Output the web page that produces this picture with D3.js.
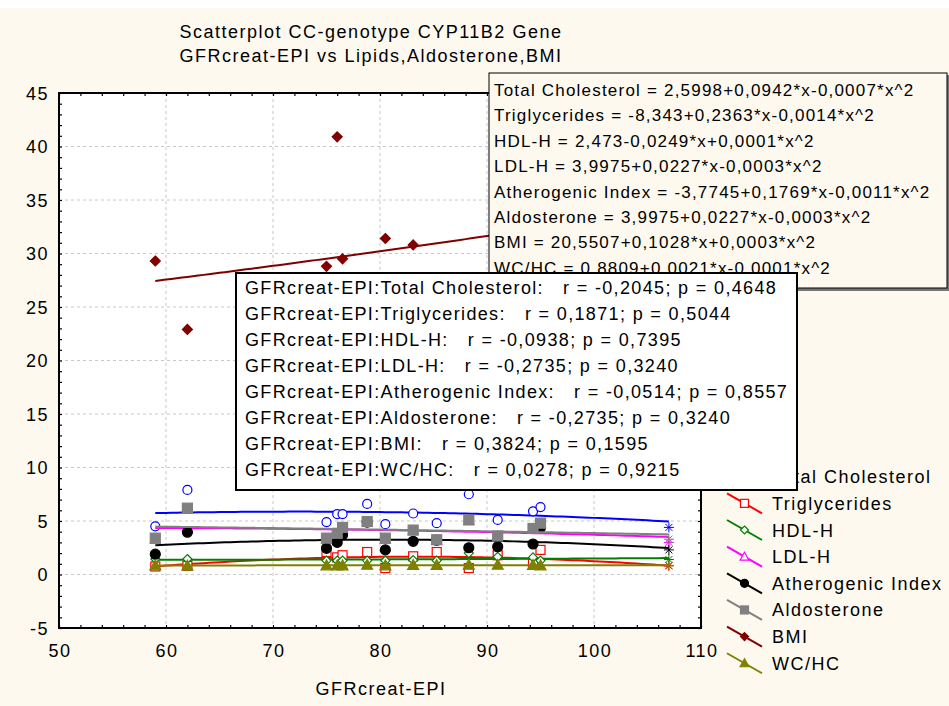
<!DOCTYPE html>
<html>
<head>
<meta charset="utf-8">
<script src="https://cdn.jsdelivr.net/npm/d3@7"></script>
<style>
  body { margin: 0; background: #fff; }
  svg text { font-family: "Liberation Sans", Arial, sans-serif; fill: #000; white-space: pre; }
</style>
</head>
<body>
<svg id="chart" width="949" height="706"></svg>
<script>
// values
var gfr = [59, 62, 75, 76, 76.5, 78.8, 80.5, 83.1, 85.3, 88.3, 91, 94.3, 95, 107]
var totalChol = [4.5, 7.9, 4.9, 5.65, 5.65, 6.6, 4.7, 5.7, 4.8, 7.5, 5.1, 5.9, 6.3, 4.4]
var trig = [0.75, 0.8, 2.1, 1.6, 1.8, 2.1, 0.6, 1.7, 2.1, 0.6, 1.8, 1.0, 2.3, 0.8]
var hdl = [1.45, 1.45, 1.3, 1.3, 1.3, 1.3, 1.3, 1.35, 1.3, 2.0, 1.65, 1.6, 1.3, 1.4]
var ldl = [3.3, 6.1, 3.3, 3.8, 4.35, 4.9, 3.3, 4.1, 3.2, 5.05, 3.55, 4.25, 4.75, 3.0]
var athero = [1.9, 3.95, 2.45, 3.0, 3.7, 4.9, 2.3, 3.1, 3.2, 2.5, 2.6, 2.85, 4.4, 2.3]
var aldo = [3.4, 6.2, 3.4, 3.85, 4.4, 4.95, 3.4, 4.15, 3.25, 5.1, 3.6, 4.3, 4.8, 3.3]
var bmi = [29.3, 22.9, 28.8, 40.9, 29.5, 27.5, 31.4, 30.8, 27, 27.5, 32, 34, 31, 35.5]
var wchc = [0.85, 0.82, 0.85, 0.85, 0.85, 0.9, 0.85, 0.88, 0.88, 0.9, 0.9, 0.88, 0.85, 0.85]

var seriesNames = ["Total Cholesterol", "Triglycerides", "HDL-H", "LDL-H", "Atherogenic Index", "Aldosterone", "BMI", "WC/HC"]
var seriesColors = ["#0000ff", "#ff0000", "#008000", "#ff00ff", "#000000", "#808080", "#800000", "#808000"]
var seriesShapes = ["circleOpen", "squareOpen", "diamondOpen", "triangleOpen", "circle", "square", "diamond", "triangle"]
var seriesValues = [totalChol, trig, hdl, ldl, athero, aldo, bmi, wchc]

var equations = [
  "Total Cholesterol = 2,5998+0,0942*x-0,0007*x^2",
  "Triglycerides = -8,343+0,2363*x-0,0014*x^2",
  "HDL-H = 2,473-0,0249*x+0,0001*x^2",
  "LDL-H = 3,9975+0,0227*x-0,0003*x^2",
  "Atherogenic Index = -3,7745+0,1769*x-0,0011*x^2",
  "Aldosterone = 3,9975+0,0227*x-0,0003*x^2",
  "BMI = 20,5507+0,1028*x+0,0003*x^2",
  "WC/HC = 0,8809+0,0021*x-0,0001*x^2"
]
var corrLines = [
  "GFRcreat-EPI:Total Cholesterol:   r = -0,2045; p = 0,4648",
  "GFRcreat-EPI:Triglycerides:   r = 0,1871; p = 0,5044",
  "GFRcreat-EPI:HDL-H:   r = -0,0938; p = 0,7395",
  "GFRcreat-EPI:LDL-H:   r = -0,2735; p = 0,3240",
  "GFRcreat-EPI:Atherogenic Index:   r = -0,0514; p = 0,8557",
  "GFRcreat-EPI:Aldosterone:   r = -0,2735; p = 0,3240",
  "GFRcreat-EPI:BMI:   r = 0,3824; p = 0,1595",
  "GFRcreat-EPI:WC/HC:   r = 0,0278; p = 0,9215"
]
var xTicks = [50, 60, 70, 80, 90, 100, 110]
var yTicks = [-5, 0, 5, 10, 15, 20, 25, 30, 35, 40, 45]

var cream = "#fdf9ef"
var svg = d3.select("#chart")
var pLeft = 59, pTop = 93, pRight = 701, pBottom = 628

var x = d3.scaleLinear().domain([50, 110]).range([pLeft, pRight])
var y = d3.scaleLinear().domain([-5, 45]).range([pBottom, pTop])

svg.append("rect").attr("x", 0).attr("y", 8).attr("width", 949).attr("height", 698).attr("fill", cream)
svg.append("rect").attr("x", pLeft).attr("y", pTop).attr("width", pRight - pLeft).attr("height", pBottom - pTop).attr("fill", "#fff")

// title
var title = svg.append("g").style("font-size", "18px").style("letter-spacing", "1.5px")
title.append("text").attr("x", 371).attr("y", 38).attr("text-anchor", "middle").text("Scatterplot CC-genotype CYP11B2 Gene")
title.append("text").attr("x", 371).attr("y", 62).attr("text-anchor", "middle").text("GFRcreat-EPI vs Lipids,Aldosterone,BMI")

/*
grid + axes
*/
var grid = svg.append("g").attr("stroke", "#c8c8c8").attr("stroke-dasharray", "3,3").attr("stroke-width", 1)
xTicks.forEach(function(t){
  grid.append("line").attr("x1", x(t)).attr("x2", x(t)).attr("y1", pTop).attr("y2", pBottom)
})
yTicks.forEach(function(t){
  grid.append("line").attr("x1", pLeft).attr("x2", pRight).attr("y1", y(t)).attr("y2", y(t))
})

function frameAxis(axis, transform, minor, size){
  var g = svg.append("g").attr("transform", transform)
    .call(axis.tickValues(minor).tickSize(size).tickFormat(""))
  g.select(".domain").remove()
  g.selectAll("line").attr("stroke", "#000").attr("stroke-width", 1.2)
  return g
}
var xMinor = d3.range(50, 110.1, 2), yMinor = d3.range(-5, 45.1, 1)
frameAxis(d3.axisTop(x), "translate(0," + pBottom + ")", xMinor, 3)
frameAxis(d3.axisBottom(x), "translate(0," + pTop + ")", xMinor, 3)
frameAxis(d3.axisRight(y), "translate(" + pLeft + ",0)", yMinor, 3)
frameAxis(d3.axisLeft(y), "translate(" + pRight + ",0)", yMinor, 3)

svg.append("rect").attr("x", pLeft).attr("y", pTop).attr("width", pRight - pLeft).attr("height", pBottom - pTop)
  .attr("fill", "none").attr("stroke", "#000").attr("stroke-width", 2)

var labels = svg.append("g").style("font-size", "18px").style("letter-spacing", "1.5px")
xTicks.forEach(function(t){
  labels.append("text").attr("x", x(t) + 1).attr("y", 657).attr("text-anchor", "middle").text(t)
})
yTicks.forEach(function(t){
  labels.append("text").attr("x", 49).attr("y", y(t) + 6.5).attr("text-anchor", "end").text(t)
})
labels.append("text").attr("x", 381).attr("y", 695).attr("text-anchor", "middle").text("GFRcreat-EPI")

/*
quadratic least squares fit
*/
function quadFit(xs, ys){
  var mx = d3.mean(xs)
  var s = [0, 0, 0, 0, 0], t = [0, 0, 0]
  xs.forEach(function(v, i){
    var u = v - mx
    for (var k = 0; k < 5; k++) s[k] += Math.pow(u, k)
    for (var k = 0; k < 3; k++) t[k] += ys[i] * Math.pow(u, k)
  })
  var A = [[s[0], s[1], s[2], t[0]], [s[1], s[2], s[3], t[1]], [s[2], s[3], s[4], t[2]]]
  for (var i = 0; i < 3; i++){
    for (var j = i + 1; j < 3; j++){
      var f = A[j][i] / A[i][i]
      for (var k = i; k < 4; k++) A[j][k] -= f * A[i][k]
    }
  }
  var c = [0, 0, 0]
  for (var i = 2; i >= 0; i--){
    var v = A[i][3]
    for (var k = i + 1; k < 3; k++) v -= A[i][k] * c[k]
    c[i] = v / A[i][i]
  }
  return function(v){ var u = v - mx; return c[0] + c[1] * u + c[2] * u * u }
}

/*
marker drawing
*/
function drawMarker(g, shape, color, cx, cy, s){
  var filled = shape.indexOf("Open") < 0
  var fill = filled ? color : "#fff"
  var m
  if (shape.indexOf("circle") == 0){
    m = g.append("circle").attr("cx", cx).attr("cy", cy).attr("r", s * 0.5)
  } else if (shape.indexOf("square") == 0){
    m = g.append("rect").attr("x", cx - s / 2).attr("y", cy - s / 2).attr("width", s).attr("height", s)
  } else if (shape.indexOf("diamond") == 0){
    var h = s * 0.5
    m = g.append("path").attr("d", "M" + cx + "," + (cy - h) + "L" + (cx + h) + "," + cy + "L" + cx + "," + (cy + h) + "L" + (cx - h) + "," + cy + "Z")
  } else {
    var h = s * 0.55
    m = g.append("path").attr("d", "M" + cx + "," + (cy - h) + "L" + (cx + h) + "," + (cy + h * 0.8) + "L" + (cx - h) + "," + (cy + h * 0.8) + "Z")
  }
  m.attr("fill", fill).attr("stroke", color).attr("stroke-width", 1.2)
}
function drawStar(g, color, cx, cy){
  var r = 5
  var d = "M" + (cx - r) + "," + cy + "H" + (cx + r) + "M" + cx + "," + (cy - r) + "V" + (cy + r) +
    "M" + (cx - r * 0.7) + "," + (cy - r * 0.7) + "L" + (cx + r * 0.7) + "," + (cy + r * 0.7) +
    "M" + (cx - r * 0.7) + "," + (cy + r * 0.7) + "L" + (cx + r * 0.7) + "," + (cy - r * 0.7)
  g.append("path").attr("d", d).attr("stroke", color).attr("stroke-width", 1).attr("fill", "none")
}

var plot = svg.append("g")
var line = d3.line().x(d => x(d[0])).y(d => y(d[1]))
var xExtent = d3.extent(gfr)
var xsLine = d3.range(xExtent[0], xExtent[1] + 0.01, 0.5)

seriesValues.forEach(function(vals, si){
  var color = seriesColors[si]
  var fit = quadFit(gfr, vals)
  plot.append("path").datum(xsLine.map(v => [v, fit(v)]))
    .attr("d", line).attr("fill", "none").attr("stroke", color).attr("stroke-width", 2)
  var big = seriesShapes[si].indexOf("Open") < 0 ? 10 : 9
  vals.forEach(function(v, i){
    if (gfr[i] == xExtent[1]) drawStar(plot, color, x(gfr[i]), y(v))
    else drawMarker(plot, seriesShapes[si], color, x(gfr[i]), y(v), big)
  })
})

/*
legend
*/
var legend = svg.append("g").style("font-size", "18px").style("letter-spacing", "1.5px")
seriesNames.forEach(function(name, i){
  var cy = 476.7 + i * 26.65
  legend.append("line").attr("x1", 727).attr("y1", cy - 10).attr("x2", 762).attr("y2", cy + 10)
    .attr("stroke", seriesColors[i]).attr("stroke-width", 2)
  drawMarker(legend, seriesShapes[i], seriesColors[i], 744.5, cy, 8)
  legend.append("text").attr("x", 772).attr("y", cy + 6.5).text(name)
})

/*
equation box and correlation box
*/
var eq = svg.append("g")
eq.append("rect").attr("x", 491).attr("y", 75).attr("width", 459).attr("height", 216).attr("fill", "#777")
eq.append("rect").attr("x", 489).attr("y", 73).attr("width", 458).attr("height", 215)
  .attr("fill", cream).attr("stroke", "#000").attr("stroke-width", 1)
eq.selectAll("text").data(equations).enter().append("text")
  .attr("x", 494).attr("y", (d, i) => 96 + i * 25.4)
  .style("font-size", "17px").style("letter-spacing", "1.2px")
  .text(d => d)

var rb = svg.append("g")
rb.append("rect").attr("x", 236).attr("y", 273).attr("width", 561).attr("height", 217)
  .attr("fill", "#fff").attr("stroke", "#000").attr("stroke-width", 2)
rb.selectAll("text").data(corrLines).enter().append("text")
  .attr("x", 245).attr("y", (d, i) => 293.5 + i * 26.1)
  .style("font-size", "18px").style("letter-spacing", "1.35px")
  .text(d => d)
</script>
</body>
</html>
